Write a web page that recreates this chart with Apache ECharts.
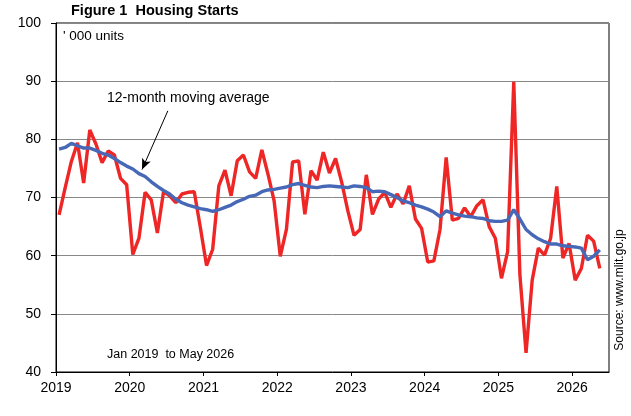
<!DOCTYPE html>
<html>
<head>
<meta charset="utf-8">
<script src="https://cdn.jsdelivr.net/npm/echarts@6/dist/echarts.min.js"></script>
<style>
  html, body { margin: 0; padding: 0; background: #fff; }
  #chart { width: 631px; height: 416px; }
</style>
</head>
<body>
<div id="chart"></div>
<script>
// monthly housing starts, Jan 2019 .. May 2026 ('000 units, annualised)
var startYear = 2019;
var yearTicks = [0, 12, 24, 36, 48, 60, 72, 84];
var starts = [
  67.0, 71.7, 76.2, 79.4, 72.5, 81.6, 79.2, 76.0, 78.0, 77.3, 73.3, 72.2,
  60.2, 63.0, 70.9, 69.6, 63.9, 71.0, 70.3, 69.1, 70.6, 70.9, 71.0, 64.8,
  58.3, 61.1, 72.0, 74.7, 70.3, 76.3, 77.3, 74.4, 73.3, 78.2, 74.0, 69.4,
  59.9, 64.5, 76.1, 76.3, 67.1, 74.6, 73.0, 77.8, 74.2, 76.7, 72.6, 67.7,
  63.5, 64.5, 73.9, 67.1, 69.7, 70.9, 68.3, 70.6, 68.9, 72.0, 66.3, 64.7,
  58.9, 59.1, 64.5, 76.9, 66.1, 66.4, 68.2, 66.7, 68.6, 69.6, 65.0, 63.0,
  56.1, 60.7, 89.9, 56.7, 43.3, 55.8, 61.3, 60.1, 63.0, 71.9, 59.6, 62.1,
  55.8, 57.8, 63.5, 62.5, 57.8
];
var movingAvg = [
  78.3, 78.6, 79.3, 78.9, 78.5, 78.5, 78.1, 77.6, 77.3, 76.7, 76.0, 75.4,
  74.9, 74.1, 73.6, 72.7, 71.9, 71.2, 70.6, 69.7, 69.1, 68.7, 68.4, 68.1,
  67.9, 67.6, 67.9, 68.3, 68.7, 69.3, 69.7, 70.2, 70.4, 71.0, 71.3, 71.4,
  71.6, 71.8, 72.2, 72.4, 72.1, 71.8, 71.7, 71.9, 72.0, 71.9, 71.8, 71.7,
  72.0, 71.9, 71.7, 71.0, 71.1, 71.0, 70.5, 70.0, 69.4, 69.1, 68.7, 68.4,
  68.0, 67.5, 66.7, 67.7, 67.3, 67.0, 66.8, 66.7, 66.5, 66.4, 66.0, 65.9,
  65.9, 66.1, 67.9, 66.3, 64.5, 63.6, 62.9, 62.4, 62.0, 62.0, 61.7, 61.6,
  61.5, 61.3, 59.3, 59.9, 61.0
];

function toPoints(arr) {
  // each month sits in the middle of its slot on the month axis
  return arr.map(function (v, i) { return [i + 0.5, v]; });
}

var font = '"Liberation Sans", Arial, sans-serif';
var chart = echarts.init(document.getElementById('chart'));
var option = {
  animation: false,
  backgroundColor: '#fff',
  textStyle: { fontFamily: font },
  grid: {
    left: 56, right: 22, top: 23, bottom: 44,
    show: true, borderColor: '#000', borderWidth: 1
  },
  xAxis: {
    type: 'value',
    min: 0,
    max: 90,
    interval: 12,
    axisLine: { lineStyle: { color: '#000', width: 1 } },
    axisTick: { length: 4, lineStyle: { color: '#000' }, customValues: yearTicks },
    axisLabel: {
      color: '#000', fontSize: 14, fontFamily: font, margin: 9,
      customValues: yearTicks,
      formatter: function (v) { return String(startYear + v / 12); }
    },
    splitLine: { show: false }
  },
  yAxis: {
    type: 'value',
    min: 40,
    max: 100,
    interval: 10,
    axisLine: { show: true, lineStyle: { color: '#000', width: 1 } },
    axisTick: { show: true, length: 5, lineStyle: { color: '#000' } },
    axisLabel: { color: '#000', fontSize: 14, fontFamily: font, margin: 15 },
    splitLine: { lineStyle: { color: '#888', width: 1 } }
  },
  series: [
    {
      name: 'Housing starts',
      type: 'line',
      data: toPoints(starts),
      showSymbol: false,
      lineStyle: { color: '#EE2626', width: 3.4 },
      z: 2
    },
    {
      name: '12-month moving average',
      type: 'line',
      data: toPoints(movingAvg),
      showSymbol: false,
      lineStyle: { color: '#4768B6', width: 3.4 },
      z: 3,
      markLine: {
        silent: true,
        symbolSize: [7, 11],
        label: { show: false },
        lineStyle: { color: '#000', width: 1, type: 'solid' },
        data: [[
          { coord: [18.2, 84.9], symbol: 'none' },
          { coord: [14.0, 74.8], symbol: 'arrow' }
        ]]
      }
    }
  ],
  graphic: [
    { type: 'text', x: 71, y: 11, style: { text: 'Figure 1  Housing Starts', font: 'bold 14.5px ' + font, fill: '#000', verticalAlign: 'middle' } },
    { type: 'text', x: 63, y: 36, style: { text: "' 000 units", font: '13.5px ' + font, fill: '#000', verticalAlign: 'middle' } },
    { type: 'text', x: 107, y: 98, style: { text: '12-month moving average', font: '14px ' + font, fill: '#000', verticalAlign: 'middle' } },
    { type: 'text', x: 107, y: 355, style: { text: 'Jan 2019  to May 2026', font: '12.5px ' + font, fill: '#000', verticalAlign: 'middle' } },
    { type: 'text', x: 620, y: 290, rotation: Math.PI / 2, style: { text: 'Source: www.mlit.go.jp', font: '12px ' + font, fill: '#000', align: 'center', verticalAlign: 'middle' } }
  ]
};
chart.setOption(option);
</script>
</body>
</html>
